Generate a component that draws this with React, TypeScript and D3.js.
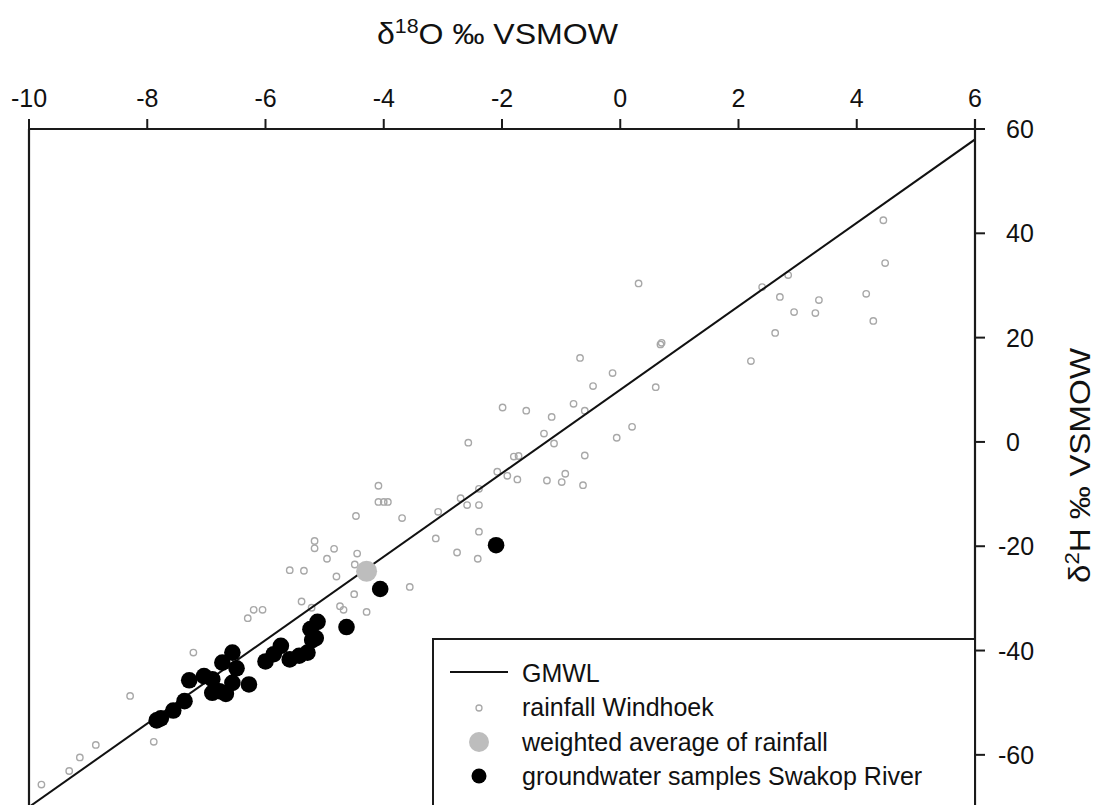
import React from "react";
import * as d3 from "d3";

const xTicks = [-10, -8, -6, -4, -2, 0, 2, 4, 6];
const yTicks = [60, 40, 20, 0, -20, -40, -60];

const gmwlO = [-10, 6];
const gmwlH = [-70, 58];

const rainfallO = [
  4.45, 4.48, 4.16, 4.28, 3.36, 3.3, 2.94, 2.7, 2.84, 2.4, 2.62, 2.21,
  0.31, 0.68, 0.7, -0.68, -0.13, 0.6, -0.46, -1.99, -1.59, -0.79, -0.6, -1.16, 0.2, -1.29, -1.12, -0.06,
  -2.57, -0.6, -1.8, -1.72, -2.08, -1.91, -1.74, -1.24, -0.99, -0.93, -0.63, -2.39, -2.7,
  -2.59, -2.39, -3.08, -2.39, -3.12, -2.76, -2.41, -4.09, -4.09, -4.0, -3.93, -3.69, -4.47,
  -5.17, -5.17, -4.84, -4.96, -4.45, -4.49, -5.59, -5.35, -4.8, -3.56, -4.5, -5.39, -5.22,
  -4.74, -4.68, -4.29, -6.2, -6.05,
  -6.3, -7.22, -8.29, -7.89, -8.87, -9.14, -9.32, -9.79,
];
const rainfallH = [
  42.5, 34.3, 28.4, 23.2, 27.2, 24.7, 24.9, 27.8, 32.0, 29.7, 20.9, 15.5,
  30.4, 18.7, 19.0, 16.1, 13.2, 10.5, 10.7, 6.6, 6.0, 7.3, 6.0, 4.8, 2.9, 1.6, -0.3, 0.8,
  -0.15, -2.6, -2.8, -2.7, -5.7, -6.5, -7.2, -7.4, -7.7, -6.1, -8.3, -9.0, -10.8,
  -12.1, -12.1, -13.4, -17.2, -18.5, -21.2, -22.4, -8.4, -11.5, -11.5, -11.5, -14.6, -14.2,
  -19.0, -20.4, -20.5, -22.4, -21.4, -23.5, -24.6, -24.7, -25.8, -27.8, -29.2, -30.6, -31.8,
  -31.5, -32.2, -32.6, -32.2, -32.2,
  -33.8, -40.4, -48.7, -57.5, -58.1, -60.5, -63.1, -65.7,
];

const weightedO = [-4.29];
const weightedH = [-24.8];

const groundO = [
  -2.1, -4.06, -4.63, -5.12, -5.24, -5.21, -5.15, -5.29, -5.43, -5.59, -5.74, -5.86, -6.0,
  -6.56, -6.73, -6.49, -6.28, -6.56, -7.04, -6.9, -7.29, -6.9, -6.67, -6.78, -7.37, -7.56, -7.77, -7.84,
];
const groundH = [
  -19.8, -28.2, -35.5, -34.5, -35.9, -38.0, -37.6, -40.4, -41.0, -41.7, -39.1, -40.7, -42.1,
  -40.4, -42.3, -43.4, -46.5, -46.2, -44.9, -45.5, -45.7, -48.1, -48.3, -47.8, -49.7, -51.5, -53.0, -53.4,
];

const legendLabels = [
  "GMWL",
  "rainfall Windhoek",
  "weighted average of rainfall",
  "groundwater samples Swakop River",
];

const FONT = "'Liberation Sans', Arial, Helvetica, sans-serif";

export default function App() {
  const W = 1100;
  const H = 805;
  const left = 29;
  const right = 975;
  const top = 129;
  const bottom = 807;

  const x = d3.scaleLinear().domain([-10, 6]).range([left, right]);
  const y = d3.scaleLinear().domain([-70, 60]).range([bottom, top]);

  const line = d3
    .line<number>()
    .x((_, i) => x(gmwlO[i]))
    .y((d) => y(d));

  const axisColor = "#1a1a1a";
  const rainColor = "#a8a8a8";

  const legX = 433;
  const legY = 639;
  const rowY = [682, 716, 751, 785];
  const markX = 479;

  return (
    <svg
      width={W}
      height={H}
      style={{ position: "absolute", left: 0, top: 0, background: "#fff" }}
      fontFamily={FONT}
    >
      <rect x={0} y={0} width={W} height={H} fill="#fff" />
      <defs>
        <clipPath id="plot">
          <rect x={left} y={top} width={right - left} height={bottom - top} />
        </clipPath>
      </defs>

      {/* title */}
      <text x={377} y={44} fontSize={30} fill="#111" textLength={241} lengthAdjust="spacingAndGlyphs">
        δ
        <tspan fontSize={20} dy={-11}>18</tspan>
        <tspan dy={11}>O ‰ VSMOW</tspan>
      </text>

      {/* right axis title */}
      <text
        transform={`translate(1090, 583) rotate(-90)`}
        fontSize={30}
        fill="#111"
        textLength={235}
        lengthAdjust="spacingAndGlyphs"
      >
        δ
        <tspan fontSize={20} dy={-11}>2</tspan>
        <tspan dy={11}>H ‰ VSMOW</tspan>
      </text>

      {/* rainfall */}
      <g clipPath="url(#plot)">
        {rainfallO.map((o, i) => (
          <circle
            key={"r" + i}
            cx={x(o)}
            cy={y(rainfallH[i])}
            r={3.2}
            fill="none"
            stroke={rainColor}
            strokeWidth={1.4}
          />
        ))}
        <path
          d={line(gmwlH) || ""}
          fill="none"
          stroke="#111"
          strokeWidth={2}
        />
        {weightedO.map((o, i) => (
          <circle key={"w" + i} cx={x(o)} cy={y(weightedH[i])} r={10.5} fill="#bdbdbd" />
        ))}
        {groundO.map((o, i) => (
          <circle key={"g" + i} cx={x(o)} cy={y(groundH[i])} r={8.3} fill="#000" />
        ))}
      </g>

      {/* frame */}
      <line x1={left} y1={top} x2={left} y2={H} stroke={axisColor} strokeWidth={2.2} />
      <line x1={right} y1={top - 10} x2={right} y2={H} stroke={axisColor} strokeWidth={2.2} />
      <line x1={left} y1={top} x2={right + 10} y2={top} stroke={axisColor} strokeWidth={2.2} />

      {/* top axis ticks */}
      {xTicks.map((t) => (
        <g key={"xt" + t}>
          <line x1={x(t)} x2={x(t)} y1={top} y2={top - 10} stroke={axisColor} strokeWidth={2} />
          <text x={x(t)} y={107} fontSize={25} textAnchor="middle" fill="#111">
            {t}
          </text>
        </g>
      ))}

      {/* right axis ticks */}
      {yTicks.map((t) => (
        <g key={"yt" + t}>
          <line x1={right} x2={right + 10} y1={y(t)} y2={y(t)} stroke={axisColor} strokeWidth={2} />
          <text x={t < 0 ? 998 : 1006} y={y(t) + 9} fontSize={25} fill="#111">
            {t}
          </text>
        </g>
      ))}

      {/* legend */}
      <rect x={legX} y={legY} width={right - legX} height={H - legY + 5} fill="#fff" stroke={axisColor} strokeWidth={2} />
      <line x1={450} x2={508} y1={rowY[0] - 10} y2={rowY[0] - 10} stroke="#111" strokeWidth={2} />
      <circle cx={markX} cy={rowY[1] - 8} r={3} fill="none" stroke={rainColor} strokeWidth={1.3} />
      <circle cx={markX} cy={rowY[2] - 9} r={10} fill="#bdbdbd" />
      <circle cx={markX} cy={rowY[3] - 9} r={7.5} fill="#000" />
      {legendLabels.map((l, i) => (
        <text key={"l" + i} x={522} y={rowY[i]} fontSize={25} fill="#111">
          {l}
        </text>
      ))}
    </svg>
  );
}
